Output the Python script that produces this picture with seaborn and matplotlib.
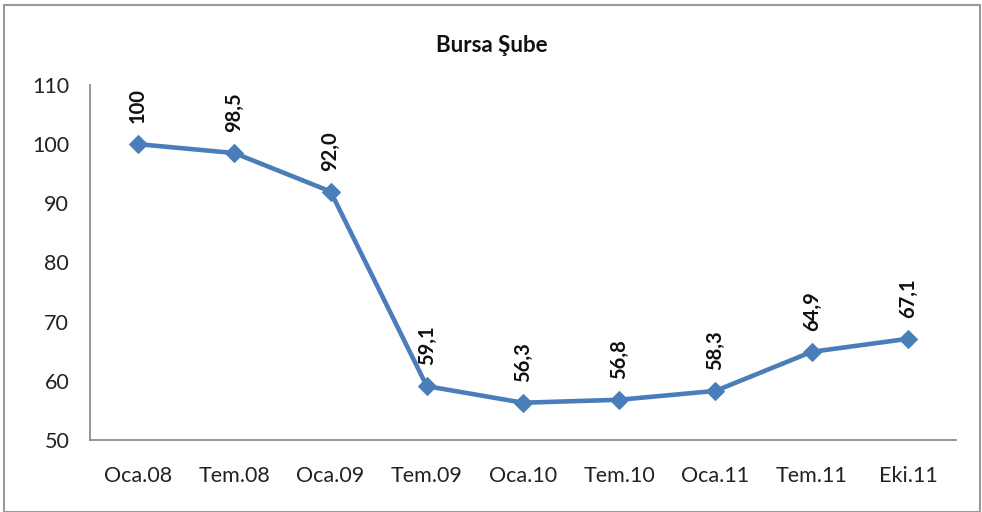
import matplotlib
matplotlib.use("Agg")
import matplotlib.pyplot as plt
import seaborn as sns
import pandas as pd
from matplotlib.patches import Rectangle

categories = ["Oca.08", "Tem.08", "Oca.09", "Tem.09", "Oca.10", "Tem.10", "Oca.11", "Tem.11", "Eki.11"]
values = [100, 98.5, 92.0, 59.1, 56.3, 56.8, 58.3, 64.9, 67.1]
labels = ["100", "98,5", "92,0", "59,1", "56,3", "56,8", "58,3", "64,9", "67,1"]
yticks = [50, 60, 70, 80, 90, 100, 110]

sns.set_style("white")
plt.rcParams["font.family"] = ["Lato", "DejaVu Sans"]

df = pd.DataFrame({"cat": categories, "val": values})

fig = plt.figure(figsize=(9.82, 5.12), dpi=100)
ax = fig.add_axes([90/982, 1-440/512, (956-90)/982, (440-85)/512])

color = "#4A7EBB"
sns.lineplot(data=df, x="cat", y="val", ax=ax, sort=False, color=color,
             linewidth=3.3, marker="D", markersize=9.5, markeredgecolor=color)

for i, (v, lab) in enumerate(zip(values, labels)):
    ax.annotate(lab, (i, v), xytext=(0, 15), textcoords="offset points",
                ha="center", va="bottom", rotation=90, fontsize=14.5,
                fontweight="bold", color="#111111")

ax.set_xlim(-0.5, len(categories) - 0.5)
ax.set_ylim(50, 110)
ax.set_yticks(yticks)
ax.set_xlabel("")
ax.set_ylabel("")
ax.tick_params(axis="x", length=0, pad=19, labelsize=15.5, labelcolor="#222222")
ax.tick_params(axis="y", length=0, pad=15, labelsize=15.5, labelcolor="#222222")
for s in ["top", "right"]:
    ax.spines[s].set_visible(False)
for s in ["left", "bottom"]:
    ax.spines[s].set_color("#8c8c8c")
    ax.spines[s].set_linewidth(1.3)

fig.text(492/982, 1-45/512, "Bursa Şube", ha="center", va="center",
         fontsize=16, fontweight="bold", color="#111111")

fig.patches.append(Rectangle((4/982, 0.0), (980-4)/982, 1-5/512, transform=fig.transFigure,
                             fill=False, edgecolor="#9a9a9a", linewidth=1.5))

fig.savefig("out.png", dpi=100)
